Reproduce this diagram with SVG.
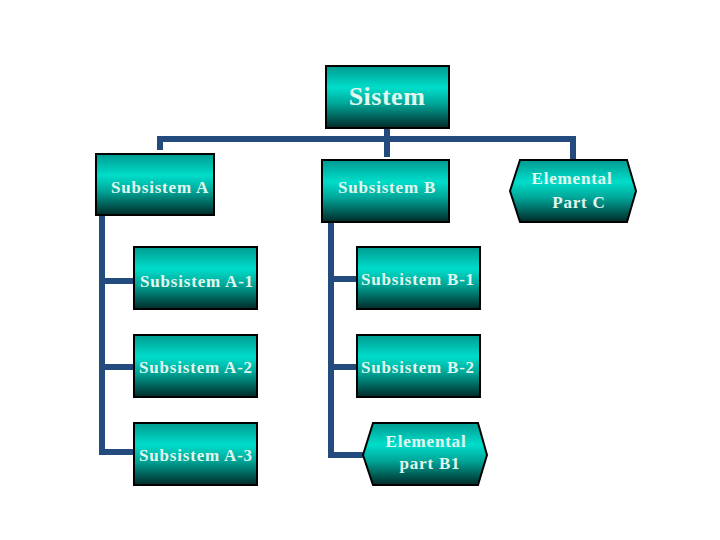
<svg xmlns="http://www.w3.org/2000/svg" width="720" height="540" viewBox="0 0 720 540">
<defs>
<linearGradient id="g" x1="0" y1="0" x2="0" y2="1">
<stop offset="0" stop-color="#009b90"/>
<stop offset="0.35" stop-color="#00ddca"/>
<stop offset="0.6" stop-color="#00a89a"/>
<stop offset="1" stop-color="#002a28"/>
</linearGradient>
<style>
.box{fill:url(#g);stroke:#000;stroke-width:2}
.t{font-family:"Liberation Serif",serif;font-weight:bold;fill:#e2f7ee;text-anchor:middle}
.s{font-size:17px;letter-spacing:0.8px}
.c{fill:none;stroke:#244b7d;stroke-width:6;stroke-linecap:butt}
</style>
</defs>
<rect width="720" height="540" fill="#fff"/>
<g id="connectors">
<path class="c" d="M160,150 V139 H573 V160"/>
<path class="c" d="M387,128 V157"/>
<path class="c" d="M102,215 V452 H133"/>
<path class="c" d="M102,281 H133 M102,367 H133"/>
<path class="c" d="M331,222 V455 H363"/>
<path class="c" d="M331,279 H357 M331,367 H357"/>
</g>
<g id="sistem"><rect class="box" x="326" y="66" width="123" height="62"/><text class="t" x="387" y="105" font-size="26" letter-spacing="0.5">Sistem</text></g>
<g id="subA"><rect class="box" x="96" y="154" width="118" height="61"/><text class="t s" x="160" y="193">Subsistem A</text></g>
<g id="subB"><rect class="box" x="322" y="160" width="127" height="62"/><text class="t s" x="387" y="193">Subsistem B</text></g>
<g id="partC"><polygon class="box" points="520,160 627,160 636,191 627,222 520,222 510,191"/><text class="t s" x="572" y="184">Elemental</text><text class="t s" x="579" y="208">Part C</text></g>
<g id="subA1"><rect class="box" x="134" y="247" width="123" height="62"/><text class="t s" x="197" y="287">Subsistem A-1</text></g>
<g id="subA2"><rect class="box" x="134" y="335" width="123" height="62"/><text class="t s" x="196" y="373">Subsistem A-2</text></g>
<g id="subA3"><rect class="box" x="134" y="423" width="123" height="62"/><text class="t s" x="196" y="461">Subsistem A-3</text></g>
<g id="subB1"><rect class="box" x="357" y="247" width="123" height="62"/><text class="t s" x="418" y="285">Subsistem B-1</text></g>
<g id="subB2"><rect class="box" x="357" y="335" width="123" height="62"/><text class="t s" x="418" y="373">Subsistem B-2</text></g>
<g id="partB1"><polygon class="box" points="373,423 478,423 487,455 478,485 373,485 363,455"/><text class="t s" x="426" y="447">Elemental</text><text class="t s" x="430" y="469">part B1</text></g>
</svg>
